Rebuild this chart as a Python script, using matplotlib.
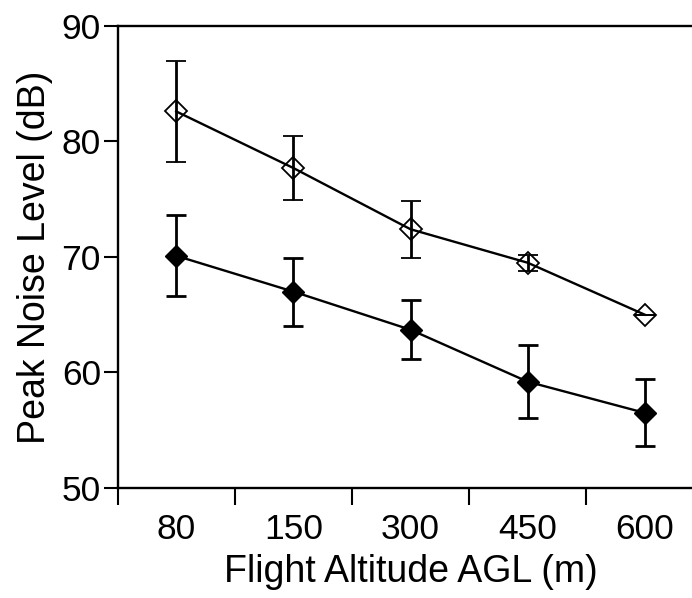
import matplotlib
matplotlib.use("Agg")
import matplotlib.pyplot as plt

# dados
altitudes = ["80", "150", "300", "450", "600"]
open_mean = [82.6, 77.7, 72.4, 69.5, 65.0]
open_err = [4.4, 2.8, 2.45, 0.7, 0.0]
filled_mean = [70.1, 67.0, 63.7, 59.2, 56.5]
filled_err = [3.5, 2.95, 2.55, 3.15, 2.9]

plt.rcParams['font.family'] = ['Liberation Sans', 'DejaVu Sans']

fig = plt.figure(figsize=(6.92, 5.98), dpi=100)
ax = fig.add_axes([0.170, 0.184, 0.8465, 0.7726])

x = list(range(len(altitudes)))

# serie aberta
ax.errorbar(x, open_mean, yerr=open_err, color="black", lw=1.7,
            marker="D", ms=11.5, mfc="none", mec="black", mew=1.3,
            capsize=7, capthick=2, elinewidth=2)
# serie cheia
ax.errorbar(x, filled_mean, yerr=filled_err, color="black", lw=1.7,
            marker="D", ms=11.5, mfc="black", mec="black",
            capsize=7, capthick=2, elinewidth=2)

ax.set_xlim(-0.5, 4.5)
ax.set_ylim(50, 90)
ax.set_yticks([50, 60, 70, 80, 90])
ax.set_xticks([i + 0.5 for i in range(-1, 4)])
ax.set_xticklabels([])
ax.set_xticks(x, minor=True)
ax.set_xticklabels(altitudes, minor=True)
ax.tick_params(axis="x", which="minor", length=0, labelsize=25.5, pad=18)
ax.tick_params(axis="x", which="major", length=12, width=1.5, direction="out")
ax.tick_params(axis="y", length=10, width=1.5, direction="out", labelsize=25.5, pad=2)

for s in ["left", "top", "bottom"]:
    ax.spines[s].set_linewidth(1.7)
ax.spines["right"].set_visible(False)

ax.set_xlabel("Flight Altitude AGL (m)", fontsize=27, labelpad=6)
ax.set_ylabel("Peak Noise Level (dB)", fontsize=27, labelpad=6)

fig.savefig("out.png", dpi=100)
